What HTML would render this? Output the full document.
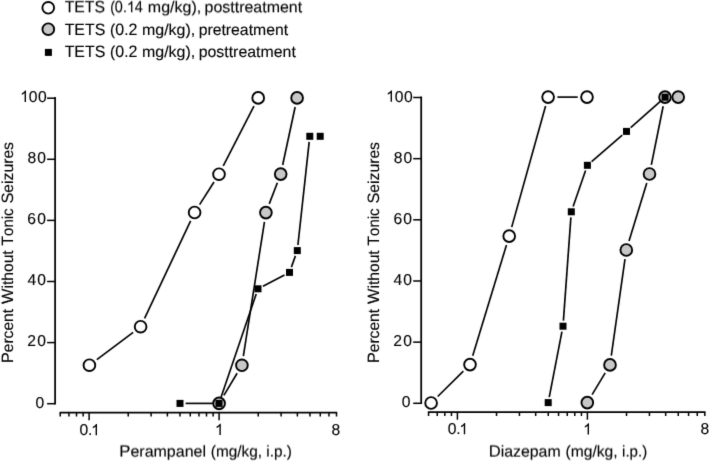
<!DOCTYPE html>
<html><head><meta charset="utf-8"><style>
html,body{margin:0;padding:0;background:#fff;}
body{width:709px;height:461px;overflow:hidden;}
svg{display:block;}
#w{width:709px;height:461px;will-change:transform;}
text{font-family:"Liberation Sans",sans-serif;text-rendering:geometricPrecision;stroke:#000;stroke-width:0.12px;}
</style></head><body><div id="w">
<svg width="709" height="461" viewBox="0 0 709 461" fill="#000">
<defs><filter id="b0" x="0" y="0" width="709" height="461" filterUnits="userSpaceOnUse" color-interpolation-filters="sRGB"><feConvolveMatrix order="3 4" targetX="1" targetY="2" kernelMatrix="0.01000 0.08000 0.01000 0.08000 0.64000 0.08000 0.01000 0.08000 0.01000 0.00000 0.00000 0.00000" divisor="1" edgeMode="none"/></filter><filter id="b3" x="0" y="0" width="709" height="461" filterUnits="userSpaceOnUse" color-interpolation-filters="sRGB"><feConvolveMatrix order="3 4" targetX="1" targetY="2" kernelMatrix="0.00700 0.05600 0.00700 0.05900 0.47200 0.05900 0.03100 0.24800 0.03100 0.00300 0.02400 0.00300" divisor="1" edgeMode="none"/></filter><filter id="b6" x="0" y="0" width="709" height="461" filterUnits="userSpaceOnUse" color-interpolation-filters="sRGB"><feConvolveMatrix order="3 4" targetX="1" targetY="2" kernelMatrix="0.00400 0.03200 0.00400 0.03800 0.30400 0.03800 0.05200 0.41600 0.05200 0.00600 0.04800 0.00600" divisor="1" edgeMode="none"/></filter></defs>
<rect width="709" height="461" fill="#fff"/>
<g filter="url(#b0)">
<circle cx="48.25" cy="7.8" r="5.85" fill="#fff" stroke="#000" stroke-width="1.9"/>
<circle cx="48.3" cy="29.2" r="5.85" fill="#c8c8c8" stroke="#000" stroke-width="1.9"/>
<rect x="44.90" y="48.90" width="7.0" height="7.0" fill="#000"/>
<text id="t4" x="64.64" y="35" font-size="15.7" textLength="40.59" lengthAdjust="spacingAndGlyphs"><tspan font-size="16.4">T</tspan><tspan font-size="16.4">E</tspan><tspan font-size="16.4">T</tspan><tspan font-size="16.4">S</tspan></text>
<text id="t5" x="110.12" y="35" font-size="15.7" textLength="27.17" lengthAdjust="spacingAndGlyphs">(<tspan font-size="16.4">0</tspan>.<tspan font-size="16.4">2</tspan></text>
<text id="t6" x="141.94" y="35" font-size="15.7" textLength="53.30" lengthAdjust="spacingAndGlyphs">mg/kg),</text>
<text id="t7" x="198.68" y="35" font-size="15.7" textLength="89.43" lengthAdjust="spacingAndGlyphs">pretreatment</text>
<text id="t8" x="64.64" y="57" font-size="15.7" textLength="40.59" lengthAdjust="spacingAndGlyphs"><tspan font-size="16.4">T</tspan><tspan font-size="16.4">E</tspan><tspan font-size="16.4">T</tspan><tspan font-size="16.4">S</tspan></text>
<text id="t9" x="110.12" y="57" font-size="15.7" textLength="27.17" lengthAdjust="spacingAndGlyphs">(<tspan font-size="16.4">0</tspan>.<tspan font-size="16.4">2</tspan></text>
<text id="t10" x="141.94" y="57" font-size="15.7" textLength="53.30" lengthAdjust="spacingAndGlyphs">mg/kg),</text>
<text id="t11" x="198.68" y="57" font-size="15.7" textLength="97.14" lengthAdjust="spacingAndGlyphs">posttreatment</text>
<line x1="55.1" y1="97.12" x2="55.1" y2="404.38" stroke="#000" stroke-width="1.75"/>
<line x1="47.1" y1="403.70" x2="55.1" y2="403.70" stroke="#000" stroke-width="1.5"/>
<text x="35.39" y="407.8" font-size="15.8" textLength="8.73" lengthAdjust="spacingAndGlyphs">0</text>
<line x1="47.1" y1="342.60" x2="55.1" y2="342.60" stroke="#000" stroke-width="1.5"/>
<text x="27.31" y="346.4" font-size="15.8" textLength="8.73" lengthAdjust="spacingAndGlyphs">2</text>
<text x="37.29" y="346.4" font-size="15.8" textLength="8.73" lengthAdjust="spacingAndGlyphs">0</text>
<line x1="47.1" y1="281.50" x2="55.1" y2="281.50" stroke="#000" stroke-width="1.5"/>
<text x="27.44" y="285.4" font-size="15.8" textLength="8.73" lengthAdjust="spacingAndGlyphs">4</text>
<text x="37.29" y="285.4" font-size="15.8" textLength="8.73" lengthAdjust="spacingAndGlyphs">0</text>
<line x1="47.1" y1="220.40" x2="55.1" y2="220.40" stroke="#000" stroke-width="1.5"/>
<text x="27.30" y="224.2" font-size="15.8" textLength="8.73" lengthAdjust="spacingAndGlyphs">6</text>
<text x="37.29" y="224.2" font-size="15.8" textLength="8.73" lengthAdjust="spacingAndGlyphs">0</text>
<line x1="47.1" y1="159.30" x2="55.1" y2="159.30" stroke="#000" stroke-width="1.5"/>
<text x="27.62" y="162.9" font-size="15.8" textLength="8.73" lengthAdjust="spacingAndGlyphs">8</text>
<text x="37.29" y="162.9" font-size="15.8" textLength="8.73" lengthAdjust="spacingAndGlyphs">0</text>
<line x1="47.1" y1="98.20" x2="55.1" y2="98.20" stroke="#000" stroke-width="1.5"/>
<path d="M796 0L616 0L616 1147Q551 1085 445 1023Q339 961 250 920L250 1130Q401 1195 514 1286Q627 1377 674 1472L796 1472Z" transform="translate(19.883,101.9) scale(0.00767,-0.00767)"/>
<text x="28.69" y="101.9" font-size="15.8" textLength="8.73" lengthAdjust="spacingAndGlyphs">0</text>
<text x="37.99" y="101.9" font-size="15.8" textLength="8.73" lengthAdjust="spacingAndGlyphs">0</text>
<line x1="59.56" y1="412.7" x2="337.20" y2="412.7" stroke="#000" stroke-width="1.75"/>
<line x1="60.26" y1="412.7" x2="60.26" y2="416.5" stroke="#000" stroke-width="1.5"/>
<line x1="68.96" y1="412.7" x2="68.96" y2="416.5" stroke="#000" stroke-width="1.5"/>
<line x1="76.50" y1="412.7" x2="76.50" y2="416.5" stroke="#000" stroke-width="1.5"/>
<line x1="83.15" y1="412.7" x2="83.15" y2="416.5" stroke="#000" stroke-width="1.5"/>
<line x1="89.10" y1="412.7" x2="89.10" y2="420.2" stroke="#000" stroke-width="1.5"/>
<line x1="128.23" y1="412.7" x2="128.23" y2="416.5" stroke="#000" stroke-width="1.5"/>
<line x1="151.13" y1="412.7" x2="151.13" y2="416.5" stroke="#000" stroke-width="1.5"/>
<line x1="167.37" y1="412.7" x2="167.37" y2="416.5" stroke="#000" stroke-width="1.5"/>
<line x1="179.97" y1="412.7" x2="179.97" y2="416.5" stroke="#000" stroke-width="1.5"/>
<line x1="190.26" y1="412.7" x2="190.26" y2="416.5" stroke="#000" stroke-width="1.5"/>
<line x1="198.96" y1="412.7" x2="198.96" y2="416.5" stroke="#000" stroke-width="1.5"/>
<line x1="206.50" y1="412.7" x2="206.50" y2="416.5" stroke="#000" stroke-width="1.5"/>
<line x1="213.15" y1="412.7" x2="213.15" y2="416.5" stroke="#000" stroke-width="1.5"/>
<line x1="219.10" y1="412.7" x2="219.10" y2="420.2" stroke="#000" stroke-width="1.5"/>
<line x1="258.23" y1="412.7" x2="258.23" y2="416.5" stroke="#000" stroke-width="1.5"/>
<line x1="281.13" y1="412.7" x2="281.13" y2="416.5" stroke="#000" stroke-width="1.5"/>
<line x1="297.37" y1="412.7" x2="297.37" y2="416.5" stroke="#000" stroke-width="1.5"/>
<line x1="309.97" y1="412.7" x2="309.97" y2="416.5" stroke="#000" stroke-width="1.5"/>
<line x1="320.26" y1="412.7" x2="320.26" y2="416.5" stroke="#000" stroke-width="1.5"/>
<line x1="328.96" y1="412.7" x2="328.96" y2="416.5" stroke="#000" stroke-width="1.5"/>
<line x1="336.50" y1="412.7" x2="336.50" y2="416.5" stroke="#000" stroke-width="1.5"/>
<text x="79.49" y="435.3" font-size="15.8" textLength="8.73" lengthAdjust="spacingAndGlyphs">0</text>
<text x="88.07" y="435.3" font-size="15.8" textLength="4.36" lengthAdjust="spacingAndGlyphs">.</text>
<path d="M796 0L616 0L616 1147Q551 1085 445 1023Q339 961 250 920L250 1130Q401 1195 514 1286Q627 1377 674 1472L796 1472Z" transform="translate(90.883,435.3) scale(0.00767,-0.00767)"/>
<path d="M796 0L616 0L616 1147Q551 1085 445 1023Q339 961 250 920L250 1130Q401 1195 514 1286Q627 1377 674 1472L796 1472Z" transform="translate(214.683,435.0) scale(0.00767,-0.00767)"/>
<text x="331.42" y="434.6" font-size="15.8" textLength="8.73" lengthAdjust="spacingAndGlyphs">8</text>
<text id="t15" transform="translate(12.5,0) rotate(-90)" x="-363.09" y="0" font-size="15.7" textLength="54.10" lengthAdjust="spacingAndGlyphs"><tspan font-size="16.4">P</tspan>ercent</text>
<text id="t16" transform="translate(12.5,0) rotate(-90)" x="-303.97" y="0" font-size="15.7" textLength="53.69" lengthAdjust="spacingAndGlyphs"><tspan font-size="16.4">W</tspan>ithout</text>
<text id="t17" transform="translate(12.5,0) rotate(-90)" x="-245.54" y="0" font-size="15.7" textLength="37.14" lengthAdjust="spacingAndGlyphs"><tspan font-size="16.4">T</tspan>onic</text>
<text id="t18" transform="translate(12.5,0) rotate(-90)" x="-203.62" y="0" font-size="15.7" textLength="61.59" lengthAdjust="spacingAndGlyphs"><tspan font-size="16.4">S</tspan>eizures</text>
<line x1="96.83" y1="359.61" x2="133.17" y2="332.29" stroke="#000" stroke-width="1.65"/>
<line x1="144.58" y1="318.29" x2="190.62" y2="220.91" stroke="#000" stroke-width="1.65"/>
<line x1="199.60" y1="204.66" x2="214.00" y2="182.04" stroke="#000" stroke-width="1.65"/>
<line x1="223.25" y1="165.93" x2="253.95" y2="106.17" stroke="#000" stroke-width="1.65"/>
<line x1="223.88" y1="395.42" x2="237.12" y2="373.28" stroke="#000" stroke-width="1.65"/>
<line x1="243.34" y1="356.11" x2="264.46" y2="221.79" stroke="#000" stroke-width="1.65"/>
<line x1="269.24" y1="203.92" x2="277.36" y2="182.78" stroke="#000" stroke-width="1.65"/>
<line x1="282.66" y1="165.01" x2="295.14" y2="106.99" stroke="#000" stroke-width="1.65"/>
<line x1="185.60" y1="403.40" x2="213.40" y2="403.40" stroke="#000" stroke-width="1.65"/>
<line x1="220.80" y1="398.10" x2="256.20" y2="294.10" stroke="#000" stroke-width="1.65"/>
<line x1="262.97" y1="286.21" x2="284.53" y2="274.99" stroke="#000" stroke-width="1.65"/>
<line x1="291.39" y1="267.13" x2="295.41" y2="255.87" stroke="#000" stroke-width="1.65"/>
<line x1="297.91" y1="245.03" x2="309.19" y2="141.87" stroke="#000" stroke-width="1.65"/>
<circle cx="89.4" cy="365.2" r="5.85" fill="#fff" stroke="#000" stroke-width="1.9"/>
<circle cx="140.6" cy="326.7" r="5.85" fill="#fff" stroke="#000" stroke-width="1.9"/>
<circle cx="194.6" cy="212.5" r="5.85" fill="#fff" stroke="#000" stroke-width="1.9"/>
<circle cx="219" cy="174.2" r="5.85" fill="#fff" stroke="#000" stroke-width="1.9"/>
<circle cx="258.2" cy="97.9" r="5.85" fill="#fff" stroke="#000" stroke-width="1.9"/>
<circle cx="219.1" cy="403.4" r="5.85" fill="#c8c8c8" stroke="#000" stroke-width="1.9"/>
<circle cx="241.9" cy="365.3" r="5.85" fill="#c8c8c8" stroke="#000" stroke-width="1.9"/>
<circle cx="265.9" cy="212.6" r="5.85" fill="#c8c8c8" stroke="#000" stroke-width="1.9"/>
<circle cx="280.7" cy="174.1" r="5.85" fill="#c8c8c8" stroke="#000" stroke-width="1.9"/>
<circle cx="297.1" cy="97.9" r="5.85" fill="#c8c8c8" stroke="#000" stroke-width="1.9"/>
<rect x="176.50" y="399.90" width="7.0" height="7.0" fill="#000"/>
<rect x="215.50" y="399.90" width="7.0" height="7.0" fill="#000"/>
<rect x="254.50" y="285.30" width="7.0" height="7.0" fill="#000"/>
<rect x="286.00" y="268.90" width="7.0" height="7.0" fill="#000"/>
<rect x="293.80" y="247.10" width="7.0" height="7.0" fill="#000"/>
<rect x="306.30" y="132.80" width="7.0" height="7.0" fill="#000"/>
<rect x="316.70" y="132.80" width="7.0" height="7.0" fill="#000"/>
<line x1="421.2" y1="96.43" x2="421.2" y2="403.98" stroke="#000" stroke-width="1.75"/>
<line x1="413.2" y1="403.30" x2="421.2" y2="403.30" stroke="#000" stroke-width="1.5"/>
<text x="401.79" y="406.9" font-size="15.8" textLength="8.73" lengthAdjust="spacingAndGlyphs">0</text>
<line x1="413.2" y1="342.14" x2="421.2" y2="342.14" stroke="#000" stroke-width="1.5"/>
<text x="393.31" y="345.9" font-size="15.8" textLength="8.73" lengthAdjust="spacingAndGlyphs">2</text>
<text x="403.29" y="345.9" font-size="15.8" textLength="8.73" lengthAdjust="spacingAndGlyphs">0</text>
<line x1="413.2" y1="280.98" x2="421.2" y2="280.98" stroke="#000" stroke-width="1.5"/>
<text x="393.44" y="284.7" font-size="15.8" textLength="8.73" lengthAdjust="spacingAndGlyphs">4</text>
<text x="403.29" y="284.7" font-size="15.8" textLength="8.73" lengthAdjust="spacingAndGlyphs">0</text>
<line x1="413.2" y1="219.82" x2="421.2" y2="219.82" stroke="#000" stroke-width="1.5"/>
<text x="393.50" y="223.7" font-size="15.8" textLength="8.73" lengthAdjust="spacingAndGlyphs">6</text>
<text x="403.29" y="223.7" font-size="15.8" textLength="8.73" lengthAdjust="spacingAndGlyphs">0</text>
<line x1="413.2" y1="158.66" x2="421.2" y2="158.66" stroke="#000" stroke-width="1.5"/>
<text x="393.82" y="162.6" font-size="15.8" textLength="8.73" lengthAdjust="spacingAndGlyphs">8</text>
<text x="403.39" y="162.6" font-size="15.8" textLength="8.73" lengthAdjust="spacingAndGlyphs">0</text>
<line x1="413.2" y1="97.50" x2="421.2" y2="97.50" stroke="#000" stroke-width="1.5"/>
<path d="M796 0L616 0L616 1147Q551 1085 445 1023Q339 961 250 920L250 1130Q401 1195 514 1286Q627 1377 674 1472L796 1472Z" transform="translate(385.883,101.7) scale(0.00767,-0.00767)"/>
<text x="394.69" y="101.7" font-size="15.8" textLength="8.73" lengthAdjust="spacingAndGlyphs">0</text>
<text x="403.99" y="101.7" font-size="15.8" textLength="8.73" lengthAdjust="spacingAndGlyphs">0</text>
<line x1="427.86" y1="412.2" x2="705.50" y2="412.2" stroke="#000" stroke-width="1.75"/>
<line x1="428.56" y1="412.2" x2="428.56" y2="416.0" stroke="#000" stroke-width="1.5"/>
<line x1="437.26" y1="412.2" x2="437.26" y2="416.0" stroke="#000" stroke-width="1.5"/>
<line x1="444.80" y1="412.2" x2="444.80" y2="416.0" stroke="#000" stroke-width="1.5"/>
<line x1="451.45" y1="412.2" x2="451.45" y2="416.0" stroke="#000" stroke-width="1.5"/>
<line x1="457.40" y1="412.2" x2="457.40" y2="419.7" stroke="#000" stroke-width="1.5"/>
<line x1="496.53" y1="412.2" x2="496.53" y2="416.0" stroke="#000" stroke-width="1.5"/>
<line x1="519.43" y1="412.2" x2="519.43" y2="416.0" stroke="#000" stroke-width="1.5"/>
<line x1="535.67" y1="412.2" x2="535.67" y2="416.0" stroke="#000" stroke-width="1.5"/>
<line x1="548.27" y1="412.2" x2="548.27" y2="416.0" stroke="#000" stroke-width="1.5"/>
<line x1="558.56" y1="412.2" x2="558.56" y2="416.0" stroke="#000" stroke-width="1.5"/>
<line x1="567.26" y1="412.2" x2="567.26" y2="416.0" stroke="#000" stroke-width="1.5"/>
<line x1="574.80" y1="412.2" x2="574.80" y2="416.0" stroke="#000" stroke-width="1.5"/>
<line x1="581.45" y1="412.2" x2="581.45" y2="416.0" stroke="#000" stroke-width="1.5"/>
<line x1="587.40" y1="412.2" x2="587.40" y2="419.7" stroke="#000" stroke-width="1.5"/>
<line x1="626.53" y1="412.2" x2="626.53" y2="416.0" stroke="#000" stroke-width="1.5"/>
<line x1="649.43" y1="412.2" x2="649.43" y2="416.0" stroke="#000" stroke-width="1.5"/>
<line x1="665.67" y1="412.2" x2="665.67" y2="416.0" stroke="#000" stroke-width="1.5"/>
<line x1="678.27" y1="412.2" x2="678.27" y2="416.0" stroke="#000" stroke-width="1.5"/>
<line x1="688.56" y1="412.2" x2="688.56" y2="416.0" stroke="#000" stroke-width="1.5"/>
<line x1="697.26" y1="412.2" x2="697.26" y2="416.0" stroke="#000" stroke-width="1.5"/>
<line x1="704.80" y1="412.2" x2="704.80" y2="416.0" stroke="#000" stroke-width="1.5"/>
<text x="447.69" y="434.3" font-size="15.8" textLength="8.73" lengthAdjust="spacingAndGlyphs">0</text>
<text x="456.27" y="434.3" font-size="15.8" textLength="4.36" lengthAdjust="spacingAndGlyphs">.</text>
<path d="M796 0L616 0L616 1147Q551 1085 445 1023Q339 961 250 920L250 1130Q401 1195 514 1286Q627 1377 674 1472L796 1472Z" transform="translate(459.083,434.3) scale(0.00767,-0.00767)"/>
<path d="M796 0L616 0L616 1147Q551 1085 445 1023Q339 961 250 920L250 1130Q401 1195 514 1286Q627 1377 674 1472L796 1472Z" transform="translate(582.883,434.6) scale(0.00767,-0.00767)"/>
<text x="700.52" y="434.4" font-size="15.8" textLength="8.73" lengthAdjust="spacingAndGlyphs">8</text>
<text id="t22" transform="translate(378.6,0) rotate(-90)" x="-363.09" y="0" font-size="15.7" textLength="54.10" lengthAdjust="spacingAndGlyphs"><tspan font-size="16.4">P</tspan>ercent</text>
<text id="t23" transform="translate(378.6,0) rotate(-90)" x="-303.97" y="0" font-size="15.7" textLength="53.69" lengthAdjust="spacingAndGlyphs"><tspan font-size="16.4">W</tspan>ithout</text>
<text id="t24" transform="translate(378.6,0) rotate(-90)" x="-245.54" y="0" font-size="15.7" textLength="37.14" lengthAdjust="spacingAndGlyphs"><tspan font-size="16.4">T</tspan>onic</text>
<text id="t25" transform="translate(378.6,0) rotate(-90)" x="-203.62" y="0" font-size="15.7" textLength="61.59" lengthAdjust="spacingAndGlyphs"><tspan font-size="16.4">S</tspan>eizures</text>
<line x1="437.72" y1="396.47" x2="463.38" y2="371.13" stroke="#000" stroke-width="1.65"/>
<line x1="472.71" y1="355.70" x2="506.49" y2="245.00" stroke="#000" stroke-width="1.65"/>
<line x1="511.71" y1="227.14" x2="545.59" y2="106.06" stroke="#000" stroke-width="1.65"/>
<line x1="557.40" y1="97.10" x2="577.70" y2="97.10" stroke="#000" stroke-width="1.65"/>
<line x1="592.10" y1="394.63" x2="605.20" y2="372.87" stroke="#000" stroke-width="1.65"/>
<line x1="611.31" y1="355.69" x2="624.99" y2="259.21" stroke="#000" stroke-width="1.65"/>
<line x1="629.02" y1="241.11" x2="646.78" y2="182.89" stroke="#000" stroke-width="1.65"/>
<line x1="651.34" y1="164.88" x2="663.16" y2="106.22" stroke="#000" stroke-width="1.65"/>
<line x1="549.27" y1="397.10" x2="561.93" y2="331.70" stroke="#000" stroke-width="1.65"/>
<line x1="563.41" y1="320.61" x2="570.89" y2="217.39" stroke="#000" stroke-width="1.65"/>
<line x1="573.13" y1="206.51" x2="585.57" y2="170.59" stroke="#000" stroke-width="1.65"/>
<line x1="591.63" y1="161.63" x2="622.27" y2="135.07" stroke="#000" stroke-width="1.65"/>
<line x1="630.69" y1="127.69" x2="660.91" y2="100.91" stroke="#000" stroke-width="1.65"/>
<circle cx="431.1" cy="403" r="5.85" fill="#fff" stroke="#000" stroke-width="1.9"/>
<circle cx="470" cy="364.6" r="5.85" fill="#fff" stroke="#000" stroke-width="1.9"/>
<circle cx="509.2" cy="236.1" r="5.85" fill="#fff" stroke="#000" stroke-width="1.9"/>
<circle cx="548.1" cy="97.1" r="5.85" fill="#fff" stroke="#000" stroke-width="1.9"/>
<circle cx="587" cy="97.1" r="5.85" fill="#fff" stroke="#000" stroke-width="1.9"/>
<circle cx="587.3" cy="402.6" r="5.85" fill="#c8c8c8" stroke="#000" stroke-width="1.9"/>
<circle cx="610" cy="364.9" r="5.85" fill="#c8c8c8" stroke="#000" stroke-width="1.9"/>
<circle cx="626.3" cy="250" r="5.85" fill="#c8c8c8" stroke="#000" stroke-width="1.9"/>
<circle cx="649.5" cy="174" r="5.85" fill="#c8c8c8" stroke="#000" stroke-width="1.9"/>
<circle cx="665" cy="97.1" r="5.85" fill="#c8c8c8" stroke="#000" stroke-width="1.9"/>
<circle cx="678.2" cy="97.1" r="5.85" fill="#c8c8c8" stroke="#000" stroke-width="1.9"/>
<rect x="544.70" y="399.10" width="7.0" height="7.0" fill="#000"/>
<rect x="559.50" y="322.70" width="7.0" height="7.0" fill="#000"/>
<rect x="567.80" y="208.30" width="7.0" height="7.0" fill="#000"/>
<rect x="583.90" y="161.80" width="7.0" height="7.0" fill="#000"/>
<rect x="623.00" y="127.90" width="7.0" height="7.0" fill="#000"/>
<rect x="661.60" y="93.70" width="7.0" height="7.0" fill="#000"/>
</g>
<g filter="url(#b3)">
<text id="t0" x="64.65" y="12" font-size="15.7" textLength="40.38" lengthAdjust="spacingAndGlyphs"><tspan font-size="16.4">T</tspan><tspan font-size="16.4">E</tspan><tspan font-size="16.4">T</tspan><tspan font-size="16.4">S</tspan></text>
<text id="t1" x="110.21" y="12" font-size="15.7" textLength="32.61" lengthAdjust="spacingAndGlyphs">(<tspan font-size="16.4">0</tspan>.<tspan font-size="16.4"> </tspan><tspan font-size="16.4">4</tspan></text>
<text id="t2" x="147.84" y="12" font-size="15.7" textLength="53.40" lengthAdjust="spacingAndGlyphs">mg/kg),</text>
<text id="t3" x="204.57" y="12" font-size="15.7" textLength="97.55" lengthAdjust="spacingAndGlyphs">posttreatment</text>
<path d="M796 0L616 0L616 1147Q551 1085 445 1023Q339 961 250 920L250 1130Q401 1195 514 1286Q627 1377 674 1472L796 1472Z" transform="translate(126.722,12.0) scale(0.00707,-0.00767)"/>
</g>
<g filter="url(#b6)">
<text id="t12" x="119.28" y="456" font-size="15.7" textLength="86.69" lengthAdjust="spacingAndGlyphs"><tspan font-size="16.4">P</tspan>erampanel</text>
<text id="t13" x="210.85" y="456" font-size="15.7" textLength="51.23" lengthAdjust="spacingAndGlyphs">(mg/kg,</text>
<text id="t14" x="266.37" y="456" font-size="15.7" textLength="25.58" lengthAdjust="spacingAndGlyphs">i.p.)</text>
<text id="t19" x="488.69" y="456" font-size="15.7" textLength="71.97" lengthAdjust="spacingAndGlyphs"><tspan font-size="16.4">D</tspan>iazepam</text>
<text id="t20" x="565.53" y="456" font-size="15.7" textLength="52.07" lengthAdjust="spacingAndGlyphs">(mg/kg,</text>
<text id="t21" x="622.09" y="456" font-size="15.7" textLength="25.14" lengthAdjust="spacingAndGlyphs">i.p.)</text>
</g>
</svg>
</div></body></html>
